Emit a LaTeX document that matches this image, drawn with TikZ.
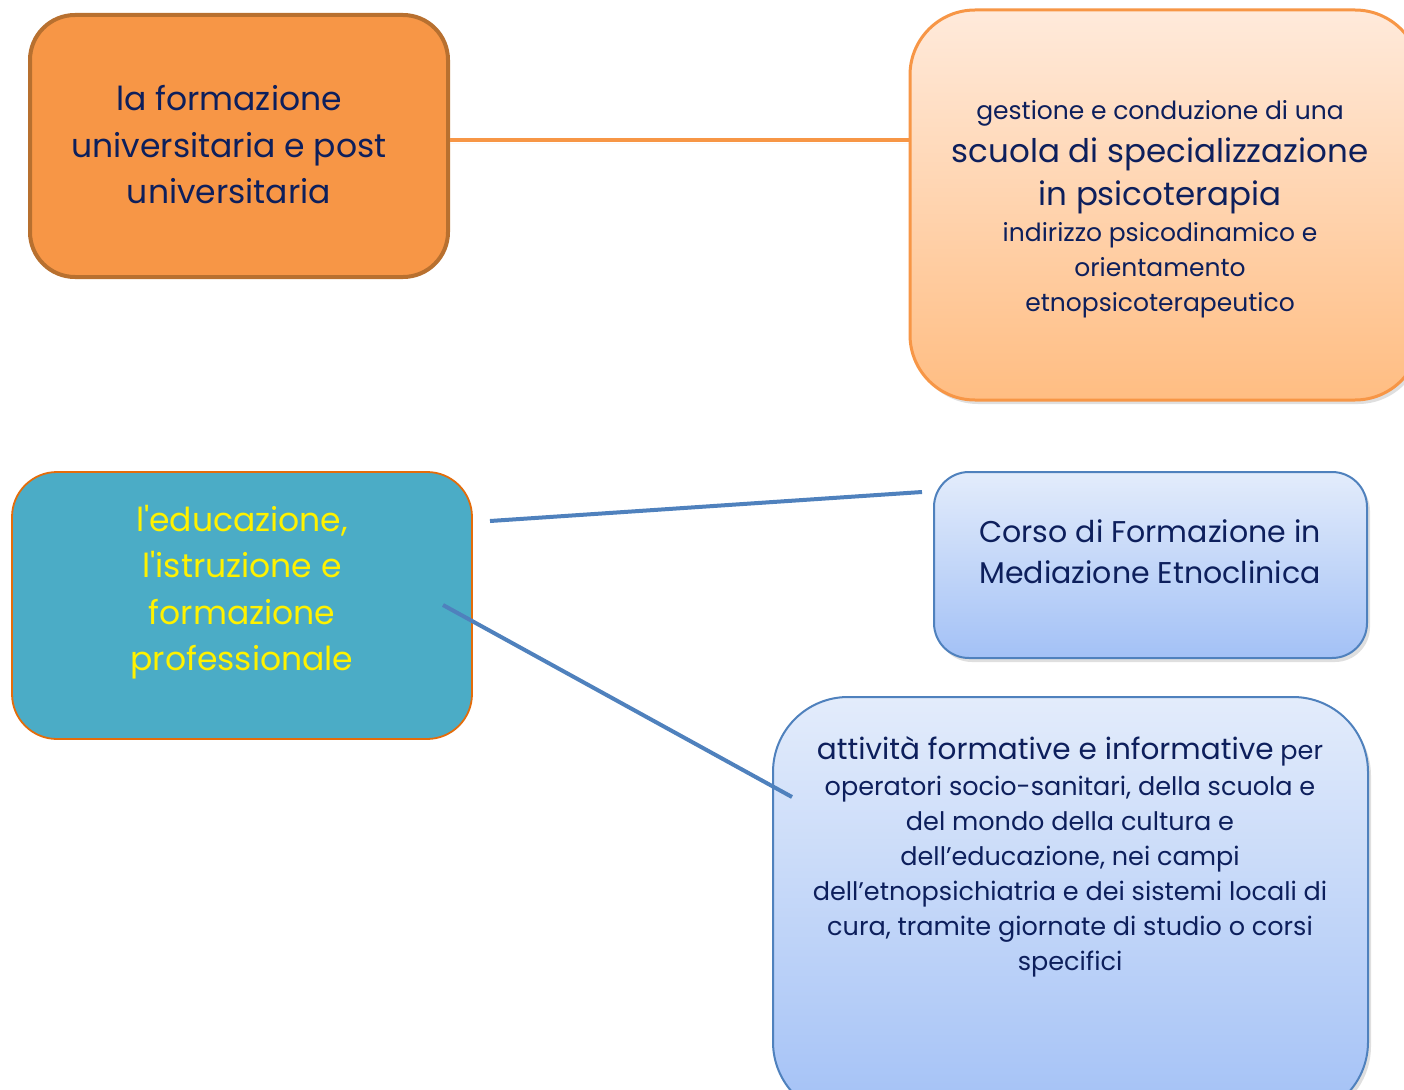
\documentclass[tikz,border=0pt]{standalone}
\usepackage{fontspec}
\newfontfamily\popp{Poppins}
\newcommand\tightlns{\lineskiplimit=-60pt\relax\lineskip=0pt\relax}
\usetikzlibrary{shadows}
\definecolor{navy}{HTML}{0D1F5C}
\definecolor{orfill}{HTML}{F79646}
\definecolor{orborder}{HTML}{B8702F}
\definecolor{peachtop}{HTML}{FFEADB}
\definecolor{peachbot}{HTML}{FFBD82}
\definecolor{teal}{HTML}{4BACC6}
\definecolor{tealborder}{HTML}{E46C0A}
\definecolor{bluetop}{HTML}{E3ECFB}
\definecolor{bluebot}{HTML}{A3C1F6}
\definecolor{blueline}{HTML}{4F81BD}
\tikzset{
  boxbase/.style={rectangle, inner sep=0pt},
  shadowed/.style={drop shadow={opacity=0.25, shadow xshift=3pt, shadow yshift=-4pt}},
  txt/.style={align=center, inner sep=0pt, text=navy},
}
\begin{document}
\begin{tikzpicture}[x=1pt,y=-1pt]
\useasboundingbox (0,0) rectangle (1404,1089);
\fill[white] (0,0) rectangle (1404,1089);
% boxes
\node[boxbase, draw=orborder, line width=4pt, fill=orfill, rounded corners=45pt,
  minimum width=418pt, minimum height=262pt] (uni) at (239,146) {};
\node[boxbase, shadowed, draw=orfill, line width=3pt, top color=peachtop, bottom color=peachbot,
  rounded corners=65pt, minimum width=510pt, minimum height=390pt] (scuola) at (1165,205) {};
\node[boxbase, draw=tealborder, line width=1.8pt, fill=teal, rounded corners=45pt,
  minimum width=460pt, minimum height=267pt] (edu) at (242,605.5) {};
\node[boxbase, shadowed, draw=blueline, line width=2pt, top color=bluetop, bottom color=bluebot,
  rounded corners=35pt, minimum width=433pt, minimum height=186pt] (corso) at (1150.5,565) {};
\node[boxbase, shadowed, draw=blueline, line width=2pt, top color=bluetop, bottom color=bluebot,
  rounded corners=75pt, minimum width=595pt, minimum height=420pt] (att) at (1070.5,907) {};
% connectors
\coordinate (c1a) at (490,521);
\coordinate (c1b) at (922,492);
\coordinate (c2a) at (443,605);
\coordinate (c2b) at (792,797);
\draw[orfill, line width=4pt, drop shadow={opacity=0.3, shadow xshift=1pt, shadow yshift=-3pt}]
  (uni.east |- 0,140) -- (scuola.west |- 0,140);
\draw[blueline, line width=4pt] (c1a) -- (c1b);
\draw[blueline, line width=4pt] (c2a) -- (c2b);
% texts
\node[txt, font=\popp\fontsize{33}{46.5}\selectfont] (tuni) at (229,145)
  {la formazione\\universitaria e post\\universitaria};
\node[txt, anchor=north, font=\popp\fontsize{25}{35}\selectfont\tightlns] (tscuola) at (1160,100) {%
  gestione e conduzione di una\\[8pt]
  \fontsize{32.5}{35}\selectfont scuola di specializzazione\\[8pt]
  \fontsize{32.5}{35}\selectfont in psicoterapia\\[1pt]
  \fontsize{25}{35}\selectfont indirizzo psicodinamico e\\
  orientamento\\
  etnopsicoterapeutico};
\node[txt, text=yellow, font=\popp\fontsize{33}{46.3}\selectfont] (tedu) at (242,592)
  {l'educazione,\\l'istruzione e\\formazione\\professionale};
\node[txt, font=\popp\fontsize{30}{41}\selectfont] (tcorso) at (1150,552)
  {Corso di Formazione in\\Mediazione Etnoclinica};
\node[txt, anchor=north, font=\popp\fontsize{25.5}{35}\selectfont\tightlns] (tatt) at (1070,736) {%
  {\fontsize{29.5}{35}\selectfont attività formative e informative} per\\[1pt]
  operatori socio-sanitari, della scuola e\\
  del mondo della cultura e\\
  dell’educazione, nei campi\\
  dell’etnopsichiatria e dei sistemi locali di\\
  cura, tramite giornate di studio o corsi\\
  specifici};
\end{tikzpicture}
\end{document}
